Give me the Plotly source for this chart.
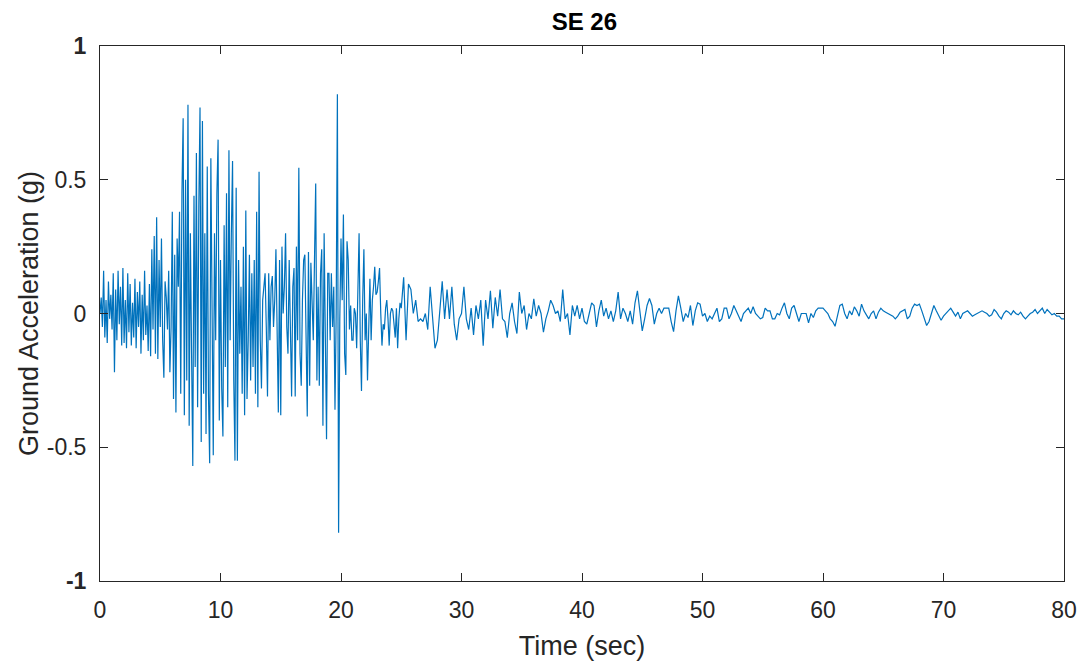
import numpy as np
import plotly.graph_objects as go

# Strong-motion phase, sampled every 0.1 s from 0 s to 24.9 s
dt_strong = 0.1
acc_strong = [
    # 0-5 s
    0.0, 0.06, -0.05, 0.16, -0.09, 0.05, -0.11, 0.12, -0.02, 0.07,
    -0.06, 0.15, -0.22, 0.09, -0.1, 0.16, -0.04, 0.1, -0.12, 0.17,
    -0.11, 0.05, -0.13, 0.15, -0.07, 0.11, -0.12, 0.04, -0.09, 0.13,
    -0.13, 0.08, -0.05, 0.12, -0.15, 0.07, -0.1, 0.16, -0.08, 0.03,
    -0.14, 0.11, -0.16, 0.24, -0.06, 0.29, -0.15, 0.36, -0.17, 0.2,
    # 5-10 s
    -0.05, 0.28, -0.1, -0.24, 0.12, 0.06, -0.06, 0.16, -0.22, -0.05,
    0.38, -0.32, 0.22, -0.37, 0.28, 0.1, 0.38, -0.3, 0.45, 0.73,
    -0.38, 0.5, -0.25, 0.78, -0.42, 0.3, -0.15, -0.57, 0.44, -0.2,
    0.6, -0.35, 0.4, 0.77, -0.48, 0.72, -0.3, 0.3, -0.45, 0.55,
    -0.3, -0.56, 0.58, -0.2, -0.53, 0.3, -0.1, 0.45, 0.65, -0.4,
    # 10-15 s
    0.2, -0.28, -0.46, 0.33, -0.2, 0.45, -0.35, 0.61, -0.1, 0.3,
    0.57, -0.25, -0.55, 0.47, -0.55, 0.2, -0.15, 0.1, -0.3, 0.25,
    -0.38, 0.385, -0.32, -0.1, 0.22, -0.25, 0.15, -0.2, 0.2, -0.3,
    0.38, -0.35, 0.53, -0.1, -0.28, 0.05, 0.1, 0.15, -0.05, -0.31,
    0.15, -0.1, 0.1, 0.14, -0.05, 0.05, 0.24, -0.15, -0.37, 0.2,
    # 15-20 s
    -0.38, 0.25, 0.0, 0.1, 0.3, -0.05, -0.15, 0.2, -0.1, -0.31,
    0.1, 0.17, -0.31, 0.25, -0.1, 0.545, -0.15, -0.27, 0.05, 0.2,
    0.22, -0.1, -0.385, 0.23, -0.27, 0.19, 0.0, -0.1, 0.2, 0.486,
    -0.25, 0.1, -0.27, 0.15, 0.24, -0.42, 0.3, -0.1, -0.47, 0.15,
    0.15, -0.1, 0.15, -0.05, 0.1, -0.36, 0.0, 0.82, -0.82, -0.02,
    # 20-25 s
    0.28, 0.05, 0.37, -0.15, -0.23, 0.27, 0.2, -0.06, 0.03, -0.1,
    -0.1, 0.02, 0.0, -0.13, 0.05, 0.3, -0.1, -0.29, 0.05, 0.24,
    -0.1, 0.0, -0.25, 0.02, 0.13, -0.1, 0.05, 0.1, 0.175, 0.07,
    0.08, 0.12, 0.17, 0.0, -0.12, -0.04, -0.06, 0.02, 0.05, -0.02,
    -0.12, 0.0, 0.02, 0.01, -0.05, -0.09, 0.02, -0.13, -0.02, 0.04,
]

# Coda, sampled every 0.2 s from 25 s to 80 s
t_coda_start = 25.0
dt_coda = 0.2
acc_coda = [
    0.02, 0.135, -0.1, 0.11, 0.09,
    0.0, 0.05, -0.03, -0.02, -0.03,
    0.0, -0.06, 0.1, -0.02, -0.13,
    -0.1, 0.0, 0.12, -0.02, 0.09,
    -0.02, 0.1, -0.04, -0.1, -0.02,
    0.0, 0.1, -0.02, -0.06, 0.02,
    -0.08, 0.03, -0.02, 0.05, -0.12,
    0.05, -0.02, 0.085, -0.055, 0.06,
    -0.01, 0.09, -0.02, -0.03, -0.09,
    0.0, 0.04, -0.03, -0.075, 0.08,
    0.0, 0.03, -0.06, 0.0, -0.02,
    0.055, -0.01, 0.03, 0.0, -0.07,
    -0.02, 0.01, 0.05, 0.03, 0.0,
    0.01, -0.03, 0.09, -0.02, 0.0,
    -0.08, 0.03, -0.01, 0.03, -0.02,
    0.02, -0.03, -0.04, 0.0, 0.04,
    0.03, -0.05, 0.01, 0.05, -0.01,
    0.02, -0.02, 0.01, -0.03, 0.01,
    0.08, -0.02, 0.02, 0.0, -0.03,
    0.01, -0.04, 0.04, 0.085, 0.0,
    -0.065, -0.02, 0.03, 0.056, 0.03,
    -0.04, 0.0, 0.02, 0.0, 0.02,
    0.02, 0.02, -0.03, -0.068, 0.01,
    0.066, 0.02, -0.03, 0.0, -0.015,
    0.03, -0.045, 0.01, 0.04, 0.035,
    -0.01, 0.0, -0.03, -0.01, -0.02,
    0.0, 0.02, -0.03, -0.02, 0.02,
    0.02, -0.02, 0.0, 0.03, 0.01,
    -0.015, -0.03, 0.0, 0.01, 0.02,
    0.0, 0.025, 0.0, -0.01, -0.02,
    -0.015, 0.02, 0.01, 0.01, -0.02,
    -0.02, 0.0, -0.005, 0.02, 0.04,
    0.0, -0.02, 0.02, 0.03, 0.0,
    -0.03, 0.0, 0.0, 0.0, -0.035,
    0.0, -0.015, 0.01, 0.02, 0.02,
    0.02, 0.01, 0.0, -0.02, -0.03,
    -0.048, -0.01, 0.03, 0.035, 0.0,
    -0.02, 0.01, -0.005, 0.025, 0.01,
    -0.01, 0.035, 0.01, -0.005, -0.02,
    0.0, 0.01, -0.02, 0.005, 0.02,
    0.01, 0.005, 0.0, -0.005, -0.01,
    -0.02, -0.01, 0.005, 0.01, 0.015,
    -0.02, -0.01, 0.02, 0.035, 0.03,
    0.035, 0.01, -0.02, -0.045, -0.03,
    0.0, 0.03, 0.01, -0.01, -0.025,
    -0.01, 0.0, 0.01, 0.02, 0.005,
    -0.01, 0.005, -0.02, 0.0, 0.005,
    0.01, 0.0, -0.01, -0.005, 0.0,
    0.005, 0.01, 0.005, 0.0, -0.01,
    -0.005, 0.015, 0.005, -0.01, -0.02,
    0.0, 0.01, 0.005, -0.005, 0.01,
    0.0, -0.005, 0.005, -0.01, -0.02,
    -0.01, 0.0, 0.005, 0.015, 0.0,
    0.01, 0.02, 0.0, 0.015, 0.005,
    -0.005, 0.0, -0.01, -0.01, -0.02,
    -0.02,
]

x_ticks = [0, 10, 20, 30, 40, 50, 60, 70, 80]
y_ticks = [-1, -0.5, 0, 0.5, 1]
y_tick_labels = ["<b>-1</b>", "-0.5", "0", "0.5", "<b>1</b>"]

t_strong = np.arange(len(acc_strong)) * dt_strong
t_coda = t_coda_start + np.arange(len(acc_coda)) * dt_coda
time = np.concatenate([t_strong, t_coda])
accel = np.concatenate([acc_strong, acc_coda])

axis_color = "#262626"
font_family = "Liberation Sans, Arial, sans-serif"

fig = go.Figure(
    go.Scatter(
        x=time,
        y=accel,
        mode="lines",
        line=dict(color="#0072BD", width=1.2),
        hoverinfo="x+y",
    )
)

common_axis = dict(
    showline=True,
    linecolor=axis_color,
    linewidth=1,
    mirror="allticks",
    ticks="inside",
    ticklen=8,
    tickcolor=axis_color,
    tickwidth=1,
    showgrid=False,
    zeroline=False,
    tickfont=dict(family=font_family, size=23, color=axis_color),
)

fig.update_xaxes(
    range=[0, 80],
    tickvals=x_ticks,
    ticklabelstandoff=8,
    title=dict(text="Time (sec)", font=dict(family=font_family, size=27, color=axis_color), standoff=14),
    **common_axis,
)
fig.update_yaxes(
    range=[-1, 1],
    tickvals=y_ticks,
    ticktext=y_tick_labels,
    ticklabelstandoff=8,
    title=dict(text="Ground Acceleration (g)", font=dict(family=font_family, size=27, color=axis_color), standoff=0),
    **common_axis,
)

fig.update_layout(
    width=1089,
    height=667,
    margin=dict(l=100, r=21, t=46, b=84),
    paper_bgcolor="white",
    plot_bgcolor="white",
    showlegend=False,
    title=dict(
        text="<b>SE 26</b>",
        x=0.5366,
        xanchor="center",
        y=0.967,
        yanchor="middle",
        font=dict(family=font_family, size=24, color="black"),
    ),
)

fig.write_html("out.html")
